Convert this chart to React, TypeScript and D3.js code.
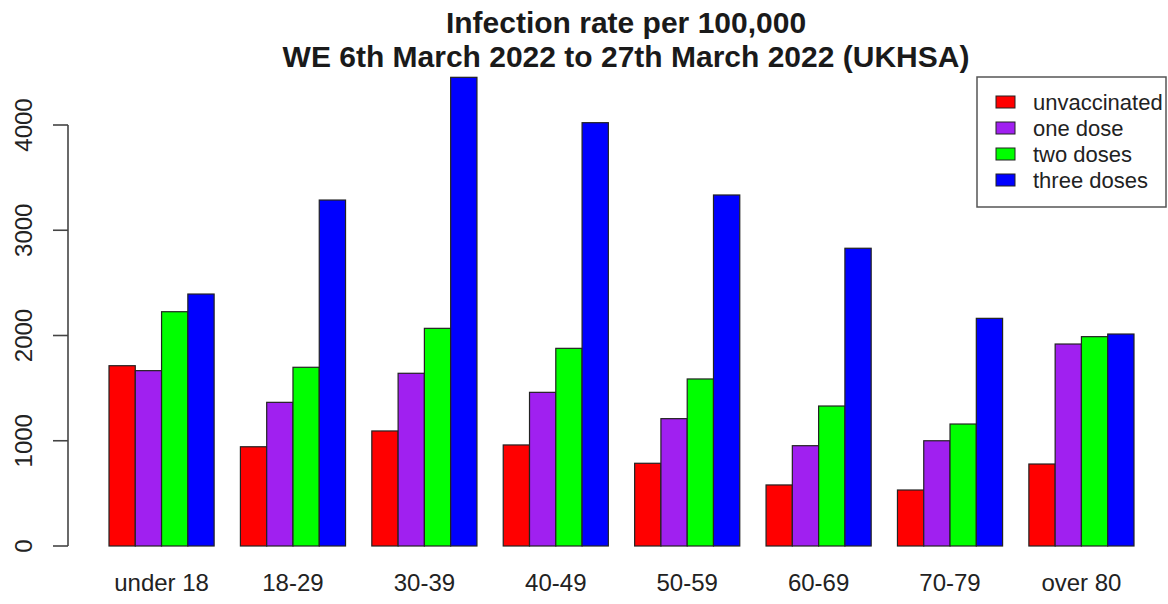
import React from "react";
import * as d3 from "d3";

// age bands on the x axis
const ageGroups = [
  "under 18",
  "18-29",
  "30-39",
  "40-49",
  "50-59",
  "60-69",
  "70-79",
  "over 80",
];

// infection rate per 100,000
const unvaccinated = [1713, 943, 1093, 960, 786, 580, 532, 779];
const oneDose = [1666, 1365, 1641, 1460, 1210, 953, 1000, 1919];
const twoDoses = [2226, 1698, 2068, 1878, 1587, 1330, 1159, 1989];
const threeDoses = [2394, 3287, 4453, 4022, 3335, 2829, 2163, 2014];

const seriesNames = ["unvaccinated", "one dose", "two doses", "three doses"];
const seriesColors = ["#ff0000", "#a020f0", "#00ff00", "#0000ff"];
const yTicks = [0, 1000, 2000, 3000, 4000];

const FONT = "'Liberation Sans', Arial, Helvetica, sans-serif";

const width = 1168;
const height = 604;

const App = () => {
  const seriesValues = [unvaccinated, oneDose, twoDoses, threeDoses];

  // grouped band scales, one empty bar-width between groups like R barplot(beside=TRUE)
  const x0 = d3.scaleBand().domain(ageGroups).range([109, 1134]).paddingInner(0.2);
  const x1 = d3.scaleBand().domain(seriesNames).range([0, x0.bandwidth()]);
  const y = d3.scaleLinear().domain([0, 4000]).range([546, 125]);
  const color = d3.scaleOrdinal<string, string>().domain(seriesNames).range(seriesColors);

  const axisX = 68;

  return (
    <svg
      width={width}
      height={height}
      style={{ position: "absolute", left: 0, top: 0, display: "block" }}
    >
      <rect width={width} height={height} fill="#fff" />

      {/* Bars */}
      {ageGroups.map((g, i) => (
        <g key={g} transform={`translate(${x0(g)},0)`}>
          {seriesNames.map((s, k) => {
            const v = seriesValues[k][i];
            return (
              <rect
                key={s}
                x={x1(s)}
                y={y(v)}
                width={x1.bandwidth()}
                height={y(0) - y(v)}
                fill={color(s)}
                stroke="#222"
                strokeWidth={1.2}
              />
            );
          })}
        </g>
      ))}

      {/* Y axis */}
      <g>
        <line
          x1={axisX}
          x2={axisX}
          y1={y(yTicks[0])}
          y2={y(yTicks[yTicks.length - 1])}
          stroke="#444"
          strokeWidth={1.6}
        />
        {yTicks.map((t) => (
          <g key={t} transform={`translate(${axisX},${y(t)})`}>
            <line x1={-15} x2={0} stroke="#444" strokeWidth={1.6} />
            <text
              transform="rotate(-90)"
              x={0}
              y={-36}
              textAnchor="middle"
              fontFamily={FONT}
              fontSize={24}
              fill="#222"
            >
              {t}
            </text>
          </g>
        ))}
      </g>

      {/* X category labels */}
      {ageGroups.map((g) => (
        <text
          key={g}
          x={x0(g)! + x0.bandwidth() / 2}
          y={591}
          textAnchor="middle"
          fontFamily={FONT}
          fontSize={24}
          fill="#222"
        >
          {g}
        </text>
      ))}

      {/* Title */}
      <text
        textAnchor="middle"
        fontFamily={FONT}
        fontSize={30}
        fontWeight="bold"
        fill="#1a1a1a"
      >
        <tspan x={626} y={33}>
          Infection rate per 100,000
        </tspan>
        <tspan x={626} y={67}>
          WE 6th March 2022 to 27th March 2022 (UKHSA)
        </tspan>
      </text>

      {/* Legend */}
      <g transform="translate(977,77)">
        <rect width={189} height={130} fill="#fff" stroke="#555" strokeWidth={1.5} />
        {seriesNames.map((s, i) => (
          <g key={s} transform={`translate(0,${25 + i * 26})`}>
            <rect
              x={19}
              y={-6}
              width={19}
              height={12}
              fill={color(s)}
              stroke="#222"
              strokeWidth={1}
            />
            <text x={56} y={8} fontFamily={FONT} fontSize={22} fill="#222">
              {s}
            </text>
          </g>
        ))}
      </g>
    </svg>
  );
};

export default App;
